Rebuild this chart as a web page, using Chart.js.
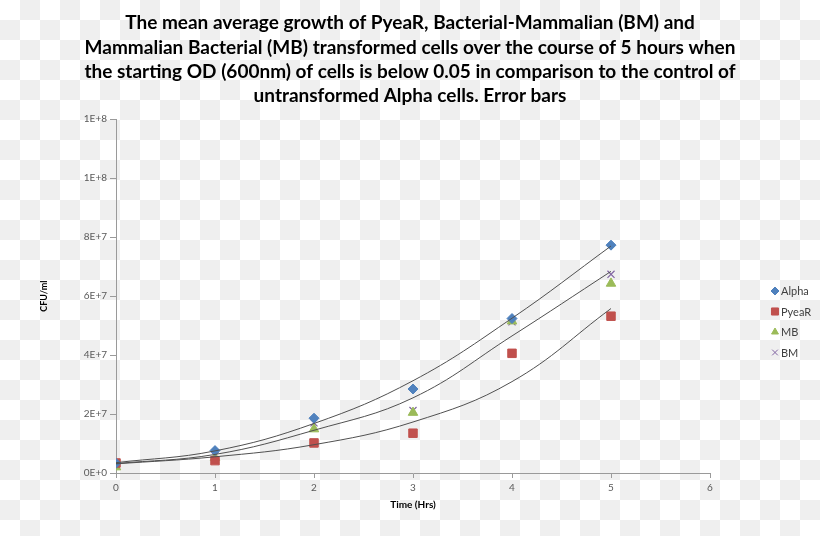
<!DOCTYPE html>
<html>
<head>
<meta charset="utf-8">
<script src="https://cdn.jsdelivr.net/npm/chart.js@4/dist/chart.umd.min.js"></script>
<style>
  html, body { margin: 0; padding: 0; }
  body {
    width: 820px; height: 536px; overflow: hidden;
    background-color: #fff;
    background-image: conic-gradient(#efefef 25%, #ffffff 0 50%, #efefef 0 75%, #ffffff 0);
    background-size: 40px 40px;
  }
  canvas { display: block; }
</style>
</head>
<body>
<canvas id="c" width="820" height="536"></canvas>
<script>
// ---- data ----
const hours = [0, 1, 2, 3, 4, 5];
const alpha = [3.3e6, 7.6e6, 1.86e7, 2.85e7, 5.24e7, 7.73e7];
const pyear = [3.4e6, 4.2e6, 1.02e7, 1.35e7, 4.06e7, 5.32e7];
const mb    = [2.0e6, 5.2e6, 1.49e7, 2.05e7, 5.15e7, 6.43e7];
const bm    = [2.7e6, 5.9e6, 1.70e7, 2.12e7, 5.13e7, 6.74e7];
// trend lines as they appear in the picture
const trendAlpha = [3.5e6, 7.5e6, 1.68e7, 3.13e7, 5.25e7, 7.70e7];
const trendBM    = [3.2e6, 6.3e6, 1.45e7, 2.55e7, 4.65e7, 6.84e7];
const trendPyear = [3.1e6, 5.5e6, 9.6e6, 1.73e7, 3.10e7, 5.58e7];
const yTickLabels = ['0E+0', '2E+7', '4E+7', '6E+7', '8E+7', '1E+8', '1E+8'];
const seriesNames = ['Alpha', 'PyeaR', 'MB', 'BM'];
const titleLines = [
  'The mean average growth of PyeaR, Bacterial-Mammalian (BM) and',
  'Mammalian Bacterial (MB) transformed cells over the course of 5 hours when',
  'the starting OD (600nm) of cells is below 0.05 in comparison to the control of',
  'untransformed Alpha cells. Error bars'
];

const pts = arr => hours.map((h, i) => ({ x: h, y: arr[i] }));

const markerDefs = [
  { data: alpha, color: '#4F81BD', style: 'rectRot', r: 5 },
  { data: pyear, color: '#C0504D', style: 'rect', r: 6 },
  { data: mb,    color: '#9BBB59', style: 'triangle', r: 5.5 },
  { data: bm,    color: '#8064A2', style: 'crossRot', r: 5 }
];

const datasets = [];
[trendAlpha, trendBM, trendPyear].forEach(t => datasets.push({
  label: 'trend', data: pts(t), showLine: true, pointRadius: 0,
  borderColor: '#505050', borderWidth: 1, tension: 0.4
}));
markerDefs.forEach((m, i) => datasets.push({
  label: seriesNames[i], data: pts(m.data), showLine: false,
  pointStyle: m.style, pointRadius: m.r, pointHoverRadius: m.r,
  backgroundColor: m.color, borderColor: m.color, borderWidth: m.style === 'crossRot' ? 1.2 : 1
}));

const legendPlugin = {
  id: 'sideLegend',
  afterDraw(chart) {
    const ctx = chart.ctx;
    ctx.save();
    ctx.font = '11px Lato';
    ctx.textBaseline = 'middle';
    ctx.textAlign = 'left';
    markerDefs.forEach((m, i) => {
      const x = 775, y = 291 + i * 20.5;
      ctx.fillStyle = m.color; ctx.strokeStyle = m.color;
      ctx.lineWidth = 1;
      Chart.helpers.drawPoint(ctx, { pointStyle: m.style, radius: m.style === 'rect' ? 5 : 4, rotation: 0, borderWidth: 1 }, x, y);
      ctx.fillStyle = '#404040';
      ctx.fillText(seriesNames[i], x + 6, y + 0.5);
    });
    ctx.restore();
  }
};

new Chart(document.getElementById('c'), {
  type: 'scatter',
  data: { datasets },
  plugins: [legendPlugin],
  options: {
    responsive: false,
    animation: false,
    devicePixelRatio: 1,
    layout: { padding: 0 },
    plugins: {
      legend: { display: false },
      tooltip: { enabled: false },
      title: {
        display: true,
        text: titleLines,
        color: '#000',
        font: { family: 'Lato', size: 19, weight: 'bold', lineHeight: 1.28 },
        padding: { top: 11, bottom: 11 }
      }
    },
    scales: {
      x: {
        type: 'linear', min: 0, max: 6,
        ticks: { stepSize: 1, color: '#595959', font: { family: 'Lato', size: 10 }, padding: 4 },
        grid: { drawOnChartArea: false, drawTicks: true, tickLength: 5, color: '#9a9a9a' },
        border: { color: '#9a9a9a' },
        title: { display: true, text: 'Time (Hrs)', color: '#000', font: { family: 'Lato', size: 10, weight: 'bold' }, padding: { top: 4, bottom: 25 } },
        afterFit(s) { s.height = 63; }
      },
      y: {
        type: 'linear', min: 0, max: 1.2e8,
        ticks: {
          stepSize: 2e7, color: '#595959', font: { family: 'Lato', size: 10 }, padding: 3,
          callback: (v, i) => yTickLabels[i]
        },
        grid: { drawOnChartArea: false, drawTicks: true, tickLength: 6, color: '#9a9a9a' },
        border: { color: '#9a9a9a' },
        title: { display: true, text: 'CFU/ml', color: '#000', font: { family: 'Lato', size: 9, weight: 'bold' }, padding: { top: 39, bottom: 0 } },
        afterFit(s) { s.width = 116; }
      },
      ySpace: {
        type: 'linear', position: 'right', display: true,
        ticks: { display: false },
        grid: { display: false, drawTicks: false },
        border: { display: false },
        afterFit(s) { s.width = 110; }
      }
    }
  }
});
</script>
</body>
</html>
